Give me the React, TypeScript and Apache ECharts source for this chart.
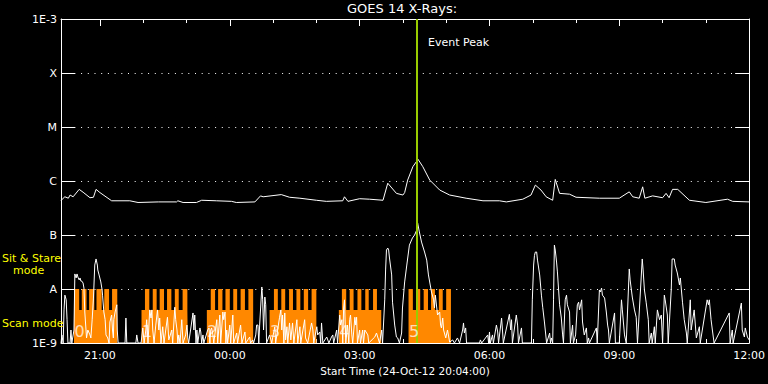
import React, { useEffect, useRef } from 'react';
import * as echarts from 'echarts';

// ---- texts ----
const TITLE = 'GOES 14 X-Rays:';
const X_NAME = 'Start Time (24-Oct-12 20:04:00)';
const EVENT_LABEL = 'Event Peak';

// ---- axes (x in hours relative to 21:00 on 24-Oct-12) ----
const X_MIN = -0.9;
const X_MAX = 15;
const MAJOR_HOURS = [0, 3, 6, 9, 12, 15];
const MINOR_HOURS = [0, 1, 2, 3, 4, 5, 6, 7, 8, 9, 10, 11, 12, 13, 14, 15];
const Y_MIN = 1e-9;
const Y_MAX = 1e-3;
const LEVEL_LABELS: Record<string, string> = {
  '-9': '1E-9', '-8': 'A', '-7': 'B', '-6': 'C', '-5': 'M', '-4': 'X', '-3': '1E-3',
};
const EVENT_PEAK = 7.33;

// ---- GOES long channel (1-8 Å), [hour, W/m^2] ----
const LONG_CHANNEL: [number, number][] = [
  [-0.90, 4.3e-7], [-0.85, 4.8e-7], [-0.81, 5.1e-7], [-0.73, 4.8e-7], [-0.69, 5.5e-7],
  [-0.62, 5.1e-7], [-0.48, 7.0e-7], [-0.39, 6.2e-7], [-0.23, 4.9e-7], [-0.15, 5.0e-7],
  [-0.09, 7.0e-7], [0.00, 6.1e-7], [0.27, 4.3e-7], [0.69, 4.3e-7], [0.88, 4.0e-7],
  [1.35, 4.1e-7], [1.77, 4.1e-7], [1.80, 4.3e-7], [1.92, 4.0e-7], [2.23, 4.0e-7],
  [2.35, 4.4e-7], [2.69, 4.3e-7], [3.04, 4.2e-7], [3.15, 4.0e-7], [3.58, 4.1e-7],
  [3.71, 5.3e-7], [3.77, 5.1e-7], [4.19, 5.6e-7], [4.38, 5.0e-7], [4.62, 4.8e-7],
  [5.00, 4.4e-7], [5.23, 4.2e-7], [5.61, 4.3e-7], [5.65, 5.1e-7], [5.73, 4.2e-7],
  [6.00, 4.7e-7], [6.23, 4.6e-7], [6.54, 4.4e-7], [6.65, 9.1e-7], [6.85, 5.9e-7],
  [7.00, 5.5e-7], [7.04, 6.1e-7], [7.11, 1.04e-6], [7.23, 1.84e-6], [7.35, 2.52e-6],
  [7.46, 1.84e-6], [7.62, 1.04e-6], [7.85, 6.8e-7], [8.08, 5.5e-7], [8.46, 4.8e-7],
  [8.85, 4.3e-7], [9.23, 4.3e-7], [9.39, 4.1e-7], [9.77, 4.6e-7], [9.96, 5.5e-7],
  [10.06, 8.4e-7], [10.19, 6.8e-7], [10.31, 5.1e-7], [10.46, 4.4e-7], [10.52, 1.07e-6],
  [10.62, 5.9e-7], [10.85, 5.7e-7], [11.00, 5.0e-7], [11.54, 4.8e-7], [12.00, 4.8e-7],
  [12.23, 6.3e-7], [12.31, 5.1e-7], [12.46, 4.8e-7], [12.54, 7.8e-7], [12.59, 4.8e-7],
  [12.77, 5.3e-7], [13.00, 4.9e-7], [13.08, 5.9e-7], [13.15, 4.9e-7], [13.23, 7.0e-7],
  [13.35, 7.0e-7], [13.62, 4.4e-7], [14.00, 4.0e-7], [14.50, 4.6e-7], [14.62, 4.2e-7],
  [15.00, 4.1e-7],
];

// ---- GOES short channel (0.5-4 Å), [hour, W/m^2], floored at 1E-9 ----
const SHORT_CHANNEL: [number, number][] = [
  [-0.90, 1e-9], [-0.88, 1.41e-9], [-0.85, 1e-9], [-0.83, 4.1e-9], [-0.81, 7.7e-9],
  [-0.78, 6.3e-9], [-0.76, 2.7e-9], [-0.74, 1e-9], [-0.69, 1e-9], [-0.67, 1.74e-9],
  [-0.65, 1e-9], [-0.60, 1.74e-9], [-0.58, 1.9e-8], [-0.55, 1.6e-8], [-0.53, 1.9e-8],
  [-0.51, 1.67e-8], [-0.48, 1.47e-8], [-0.46, 1.6e-8], [-0.44, 1.4e-8], [-0.42, 1.4e-8],
  [-0.39, 1.29e-8], [-0.37, 1.04e-8], [-0.35, 3.75e-9], [-0.31, 1.24e-9], [-0.28, 1.74e-9],
  [-0.23, 1.41e-9], [-0.21, 1.24e-9], [-0.18, 2.7e-9], [-0.15, 6.8e-9], [-0.12, 2.78e-8],
  [-0.09, 3.6e-8], [-0.06, 2.78e-8], [-0.05, 2.25e-8], [-0.02, 1.82e-8], [0.02, 1.35e-8],
  [0.05, 9.6e-9], [0.06, 7.7e-9], [0.09, 3.75e-9], [0.12, 2.7e-9], [0.14, 1.41e-9],
  [0.18, 1.24e-9], [0.21, 1e-9], [0.23, 2.45e-9], [0.27, 3.3e-9], [0.29, 1.74e-9],
  [0.31, 1.24e-9], [0.32, 2.7e-9], [0.35, 3.75e-9], [0.39, 5.1e-9], [0.40, 1.74e-9],
  [0.42, 1e-9], [0.58, 1e-9], [0.60, 2.9e-9], [0.62, 1e-9], [0.83, 1e-9],
  [0.85, 1.41e-9], [0.88, 1e-9], [0.95, 1e-9], [0.99, 1.9e-9], [1.02, 1e-9],
  [1.06, 1.74e-9], [1.08, 2.7e-9], [1.11, 1e-9], [1.15, 4.1e-9], [1.18, 2.9e-9],
  [1.20, 4.1e-9], [1.22, 1.74e-9], [1.25, 1e-9], [1.29, 2.15e-9], [1.33, 4.1e-9],
  [1.36, 1.74e-9], [1.38, 2.9e-9], [1.41, 1e-9], [1.45, 2.0e-9], [1.48, 1e-9],
  [1.52, 1.74e-9], [1.56, 3.0e-9], [1.59, 1.14e-9], [1.66, 1.74e-9], [1.68, 1e-9],
  [1.73, 4.6e-9], [1.75, 2.7e-9], [1.78, 1.74e-9], [1.80, 1e-9], [1.82, 1.41e-9],
  [1.85, 1e-9], [1.89, 2.7e-9], [1.92, 1e-9], [1.98, 1.41e-9], [2.01, 2.15e-9],
  [2.03, 1.24e-9], [2.05, 1e-9], [2.15, 3.6e-9], [2.17, 1.74e-9], [2.19, 3.3e-9],
  [2.22, 1e-9], [2.24, 1.74e-9], [2.26, 1e-9], [2.31, 1.9e-9], [2.33, 1.6e-9],
  [2.35, 1e-9], [2.38, 1.41e-9], [2.40, 1e-9], [2.49, 1.74e-9], [2.52, 1.9e-9],
  [2.54, 1e-9], [2.56, 1.74e-9], [2.58, 1.9e-9], [2.61, 1.41e-9], [2.63, 1e-9],
  [2.70, 2.7e-9], [2.72, 1e-9], [2.77, 3.3e-9], [2.79, 1e-9], [2.84, 3.75e-9],
  [2.86, 2.7e-9], [2.89, 3.75e-9], [2.91, 1e-9], [2.93, 1.74e-9], [2.95, 1e-9],
  [3.00, 2.15e-9], [3.02, 1e-9], [3.07, 3.3e-9], [3.09, 1e-9], [3.16, 1.53e-9],
  [3.18, 1e-9], [3.23, 1.74e-9], [3.25, 2.15e-9], [3.28, 1e-9], [3.35, 1.6e-9],
  [3.37, 1e-9], [3.46, 1.29e-9], [3.48, 1e-9], [3.53, 1.14e-9], [3.55, 1e-9],
  [3.60, 1.41e-9], [3.62, 2.15e-9], [3.65, 2.15e-9], [3.67, 1e-9], [3.69, 2.15e-9],
  [3.74, 1.09e-8], [3.76, 6.3e-9], [3.78, 1.74e-9], [3.81, 7.1e-9], [3.83, 5.1e-9],
  [3.85, 1e-9], [3.92, 1.41e-9], [3.97, 1e-9], [3.99, 1.24e-9], [4.04, 2.0e-9],
  [4.06, 1e-9], [4.15, 3.0e-9], [4.18, 4.1e-9], [4.20, 1.74e-9], [4.22, 3.3e-9],
  [4.25, 1e-9], [4.27, 3.6e-9], [4.29, 1.14e-9], [4.32, 2.0e-9], [4.34, 1e-9],
  [4.38, 2.35e-9], [4.41, 1.14e-9], [4.45, 2.35e-9], [4.48, 1e-9], [4.55, 2.7e-9],
  [4.57, 1e-9], [4.62, 2.0e-9], [4.64, 1e-9], [4.73, 2.7e-9], [4.75, 1.24e-9],
  [4.80, 1e-9], [4.89, 2.35e-9], [4.92, 1.74e-9], [4.94, 1e-9], [5.01, 2.0e-9],
  [5.03, 1.41e-9], [5.08, 1.6e-9], [5.10, 1e-9], [5.12, 2.35e-9], [5.15, 1e-9],
  [5.24, 1.29e-9], [5.29, 1e-9], [5.35, 1.29e-9], [5.38, 1.41e-9], [5.40, 1e-9],
  [5.47, 1.74e-9], [5.49, 1e-9], [5.54, 3.3e-9], [5.56, 2.15e-9], [5.59, 2.7e-9],
  [5.61, 1e-9], [5.63, 4.45e-9], [5.65, 6.3e-9], [5.68, 1e-9], [5.72, 2.15e-9],
  [5.75, 1e-9], [5.77, 2.7e-9], [5.79, 3.3e-9], [5.82, 1.41e-9], [5.84, 1e-9],
  [5.89, 3.0e-9], [5.91, 2.15e-9], [5.93, 3.0e-9], [5.95, 1e-9], [6.00, 1.74e-9],
  [6.02, 1e-9], [6.07, 1.74e-9], [6.09, 1e-9], [6.12, 1.74e-9], [6.19, 1.41e-9],
  [6.21, 1e-9], [6.35, 1.29e-9], [6.39, 1.53e-9], [6.46, 1e-9], [6.51, 1.74e-9],
  [6.53, 1e-9], [6.58, 6.3e-9], [6.60, 2.25e-8], [6.62, 5.27e-8], [6.65, 5.74e-8],
  [6.67, 5.27e-8], [6.69, 3.75e-8], [6.74, 1.82e-8], [6.76, 5.7e-9], [6.81, 2.15e-9],
  [6.85, 1.29e-9], [6.88, 1.24e-9], [6.92, 1e-9], [6.97, 1.53e-9], [6.99, 4.45e-9],
  [7.04, 1.35e-8], [7.09, 2.78e-8], [7.15, 6.5e-8], [7.22, 8.8e-8], [7.27, 1.0e-7],
  [7.32, 1.24e-7], [7.34, 1.67e-7], [7.38, 1.14e-7], [7.43, 7.4e-8], [7.50, 4.84e-8],
  [7.55, 3.43e-8], [7.59, 1.82e-8], [7.66, 8.8e-9], [7.71, 6.3e-9], [7.73, 4.45e-9],
  [7.75, 7.7e-9], [7.80, 3.3e-9], [7.85, 3.75e-9], [7.87, 2.15e-9], [7.89, 1.9e-9],
  [7.92, 2.9e-9], [7.94, 1.74e-9], [7.99, 1.24e-9], [8.03, 1.74e-9], [8.08, 1.04e-9],
  [8.15, 1.14e-9], [8.19, 1e-9], [8.26, 1.24e-9], [8.31, 1e-9], [8.38, 1.74e-9],
  [8.40, 2.35e-9], [8.42, 1.53e-9], [8.45, 1.9e-9], [8.47, 1e-9], [8.77, 1e-9],
  [8.79, 1.14e-9], [8.82, 1e-9], [8.96, 1.41e-9], [8.98, 1e-9], [9.00, 1.6e-9],
  [9.02, 1e-9], [9.07, 1.41e-9], [9.09, 1e-9], [9.16, 2.15e-9], [9.19, 1.6e-9],
  [9.21, 1e-9], [9.28, 2.9e-9], [9.30, 1.74e-9], [9.32, 1e-9], [9.46, 3.4e-9],
  [9.49, 1.74e-9], [9.51, 2.7e-9], [9.53, 1e-9], [9.62, 3.3e-9], [9.65, 2.15e-9],
  [9.67, 1e-9], [9.74, 1.9e-9], [9.76, 1e-9], [9.97, 1e-9], [9.99, 6.3e-9],
  [10.02, 2.78e-8], [10.04, 4.2e-8], [10.06, 4.84e-8], [10.09, 4.84e-8], [10.11, 3.43e-8],
  [10.16, 1.82e-8], [10.20, 7.7e-9], [10.23, 4.6e-9], [10.27, 2.45e-9], [10.32, 1e-9],
  [10.39, 1.53e-9], [10.41, 1e-9], [10.43, 1.24e-9], [10.46, 1e-9], [10.48, 6.3e-9],
  [10.50, 6.5e-8], [10.52, 5.27e-8], [10.55, 3.16e-8], [10.57, 2.07e-8], [10.62, 5.1e-9],
  [10.66, 2.9e-9], [10.69, 1.41e-9], [10.71, 1e-9], [10.75, 6.3e-9], [10.78, 7.7e-9],
  [10.80, 5.1e-9], [10.85, 3.75e-9], [10.87, 1e-9], [10.92, 2.15e-9], [10.94, 1e-9],
  [10.99, 1.41e-9], [11.03, 5.1e-9], [11.06, 5.7e-9], [11.08, 4.1e-9], [11.13, 6.3e-9],
  [11.15, 2.45e-9], [11.19, 1.41e-9], [11.24, 1.9e-9], [11.26, 1e-9], [11.29, 1.24e-9],
  [11.31, 1e-9], [11.47, 1.9e-9], [11.49, 1e-9], [11.54, 9.6e-9], [11.56, 8.8e-9],
  [11.59, 1.04e-8], [11.61, 7.7e-9], [11.66, 6.8e-9], [11.70, 3.75e-9], [11.73, 2.15e-9],
  [11.75, 1.74e-9], [11.77, 1e-9], [11.89, 3.6e-9], [11.91, 1e-9], [12.00, 1e-9],
  [12.05, 6.3e-9], [12.07, 4.1e-9], [12.12, 1.41e-9], [12.16, 1e-9], [12.23, 2.35e-8],
  [12.25, 1.47e-8], [12.30, 7.1e-9], [12.35, 4.1e-9], [12.39, 3.0e-9], [12.42, 1e-9],
  [12.53, 3.6e-8], [12.55, 2.25e-8], [12.58, 9.6e-9], [12.62, 5.7e-9], [12.67, 2.7e-9],
  [12.69, 1e-9], [12.74, 1.53e-9], [12.76, 1e-9], [12.81, 2.0e-9], [12.83, 1e-9],
  [12.88, 4.1e-9], [12.93, 2.7e-9], [12.97, 3.3e-9], [13.00, 1e-9], [13.04, 7.7e-9],
  [13.06, 6.3e-9], [13.11, 3.3e-9], [13.13, 1e-9], [13.20, 9.6e-9], [13.22, 3.6e-8],
  [13.27, 3.6e-8], [13.29, 2.78e-8], [13.34, 1.98e-8], [13.39, 1.19e-8], [13.41, 1.6e-8],
  [13.46, 5.7e-9], [13.50, 2.7e-9], [13.55, 1.53e-9], [13.57, 1e-9], [13.64, 6.3e-9],
  [13.66, 1.74e-9], [13.73, 4.1e-9], [13.78, 1.24e-9], [13.85, 2.0e-9], [13.87, 1e-9],
  [14.03, 6.3e-9], [14.06, 5.1e-9], [14.08, 6.3e-9], [14.12, 2.7e-9], [14.15, 1.74e-9],
  [14.19, 1e-9], [14.54, 3.6e-9], [14.56, 1e-9], [14.61, 1.74e-9], [14.63, 1e-9],
  [14.82, 5.5e-9], [14.84, 1.74e-9], [14.89, 1.29e-9], [14.91, 1.9e-9], [14.96, 1.29e-9],
  [15.00, 1.14e-9],
];

// ---- observing mode timeline: T = sit & stare, S = scan, O = none ----
const MODE_T = [
  -0.90,
  -0.60, -0.48, -0.42, -0.31, -0.25, -0.13, -0.08, 0.04, 0.10, 0.21, 0.28, 0.40,
  0.96, 1.04, 1.14, 1.22, 1.31, 1.38, 1.48, 1.55, 1.65, 1.73, 1.82, 1.91, 2.02, 2.03,
  2.47, 2.56, 2.66, 2.73, 2.83, 2.90, 3.00, 3.08, 3.17, 3.25, 3.35, 3.43, 3.54,
  3.92, 4.02, 4.11, 4.19, 4.28, 4.37, 4.46, 4.54, 4.63, 4.71, 4.81, 4.89, 5.00,
  5.52, 5.59, 5.69, 5.77, 5.86, 5.95, 6.04, 6.13, 6.21, 6.31, 6.40, 6.50,
  7.13, 7.23, 7.31, 7.40, 7.48, 7.58, 7.65, 7.74, 7.83, 7.92, 8.00, 8.11,
  15.00,
];
const MODE_STATE = [
  'O',
  'T', 'S', 'T', 'S', 'T', 'S', 'T', 'S', 'T', 'S', 'T', 'O',
  'S', 'T', 'S', 'T', 'S', 'T', 'S', 'T', 'S', 'T', 'S', 'T', 'S', 'O',
  'S', 'T', 'S', 'T', 'S', 'T', 'S', 'T', 'S', 'T', 'S', 'T', 'O',
  'S', 'T', 'S', 'T', 'S', 'T', 'S', 'T', 'S', 'T', 'S', 'T', 'O',
  'S', 'T', 'S', 'T', 'S', 'T', 'S', 'T', 'S', 'T', 'S', 'O',
  'T', 'S', 'T', 'S', 'T', 'S', 'T', 'S', 'T', 'S', 'T', 'O',
  'O',
];
const MODE_LEVEL: Record<string, number> = { T: 1e-8, S: 4.1e-9, O: 1e-9 };
const SEGMENT_START = [-0.60, 0.96, 2.47, 3.92, 5.52, 7.13];
const SEGMENT_ID = [0, 1, 2, 3, 4, 5];

const FONT = 'DejaVu Sans';

export default function App() {
  const ref = useRef<HTMLDivElement>(null);

  useEffect(() => {
    document.body.style.margin = '0';
    document.body.style.background = '#000';
    const chart = echarts.init(ref.current as HTMLDivElement, null, { renderer: 'svg' });

    const hourLabel = (v: number) => {
      const h = (((Math.round(v) + 21) % 24) + 24) % 24;
      return String(h).padStart(2, '0') + ':00';
    };
    const levelLabel = (v: number) => LEVEL_LABELS[String(Math.round(Math.log10(v)))] ?? '';
    const modeData = MODE_T.map((t, i) => [t, MODE_LEVEL[MODE_STATE[i]]]);
    const segLabels = SEGMENT_START.map((t, i) => [t, 1.5e-9, SEGMENT_ID[i]]);

    const white = '#ffffff';
    const baseX = {
      type: 'value',
      min: X_MIN,
      max: X_MAX,
      splitLine: { show: false },
    };

    chart.setOption({
      animation: false,
      backgroundColor: '#000000',
      textStyle: { fontFamily: FONT },
      title: {
        text: TITLE,
        left: 347,
        top: 2,
        padding: 0,
        textStyle: { color: white, fontSize: 13, fontWeight: 'normal', fontFamily: FONT },
      },
      grid: { left: 61, right: 18, top: 19, bottom: 41, containLabel: false },
      xAxis: [
        {
          ...baseX,
          position: 'bottom',
          axisLine: { show: true, onZero: false, lineStyle: { color: white, width: 1 } },
          axisTick: { show: true, inside: true, length: 7, customValues: MAJOR_HOURS, lineStyle: { color: white, width: 1 } },
          axisLabel: {
            show: true, customValues: MAJOR_HOURS, formatter: hourLabel,
            color: white, fontSize: 11, fontFamily: FONT, margin: 7,
          },
          name: X_NAME,
          nameLocation: 'middle',
          nameGap: 16,
          nameTextStyle: { color: white, fontSize: 10.5, fontFamily: FONT },
        },
        {
          ...baseX,
          position: 'bottom',
          axisLine: { show: false, onZero: false },
          axisTick: { show: true, inside: true, length: 4, customValues: MINOR_HOURS, lineStyle: { color: white, width: 1 } },
          axisLabel: { show: false },
        },
        {
          ...baseX,
          position: 'top',
          axisLine: { show: true, onZero: false, lineStyle: { color: white, width: 1 } },
          axisTick: { show: true, inside: true, length: 7, customValues: MAJOR_HOURS, lineStyle: { color: white, width: 1 } },
          axisLabel: { show: false },
        },
        {
          ...baseX,
          position: 'top',
          axisLine: { show: false, onZero: false },
          axisTick: { show: true, inside: true, length: 4, customValues: MINOR_HOURS, lineStyle: { color: white, width: 1 } },
          axisLabel: { show: false },
        },
      ],
      yAxis: [
        {
          type: 'log',
          logBase: 10,
          min: Y_MIN,
          max: Y_MAX,
          interval: 1,
          position: 'left',
          axisLine: { show: true, onZero: false, lineStyle: { color: white, width: 1 } },
          axisTick: { show: true, inside: true, length: 14, lineStyle: { color: white, width: 1 } },
          axisLabel: { show: true, formatter: levelLabel, color: white, fontSize: 11, fontFamily: FONT, margin: 4 },
          splitLine: { show: true, lineStyle: { color: white, width: 1, type: [1, 5.7] } },
          minorTick: { show: false },
        },
        {
          type: 'log',
          logBase: 10,
          min: Y_MIN,
          max: Y_MAX,
          interval: 1,
          position: 'right',
          axisLine: { show: true, onZero: false, lineStyle: { color: white, width: 1 } },
          axisTick: { show: true, inside: true, length: 14, lineStyle: { color: white, width: 1 } },
          axisLabel: { show: false },
          splitLine: { show: false },
        },
      ],
      graphic: [
        { type: 'text', left: 428, top: 37, z: 10, style: { text: EVENT_LABEL, fill: white, font: `11px "${FONT}"` } },
        { type: 'text', left: 2, top: 253, z: 10, style: { text: 'Sit & Stare', fill: '#ffff00', font: `11px "${FONT}"` } },
        { type: 'text', left: 13, top: 265, z: 10, style: { text: 'mode', fill: '#ffff00', font: `11px "${FONT}"` } },
        { type: 'text', left: 2, top: 318, z: 10, style: { text: 'Scan mode', fill: '#ffff00', font: `11px "${FONT}"` } },
      ],
      series: [
        {
          name: 'Mode',
          type: 'line',
          xAxisIndex: 0,
          yAxisIndex: 0,
          step: 'end',
          symbol: 'none',
          data: modeData,
          lineStyle: { width: 0, color: '#ff8800' },
          areaStyle: { color: '#ff8800', opacity: 1, origin: 'start' },
          z: 1,
          silent: true,
        },
        {
          name: 'Short',
          type: 'line',
          xAxisIndex: 0,
          yAxisIndex: 0,
          symbol: 'none',
          data: SHORT_CHANNEL,
          lineStyle: { width: 1, color: white },
          z: 3,
          silent: true,
        },
        {
          name: 'Long',
          type: 'line',
          xAxisIndex: 0,
          yAxisIndex: 0,
          symbol: 'none',
          data: LONG_CHANNEL,
          lineStyle: { width: 1, color: white },
          z: 3,
          silent: true,
          markLine: {
            silent: true,
            symbol: 'none',
            label: { show: false },
            lineStyle: { color: '#99cc00', width: 2, type: 'solid' },
            data: [{ xAxis: EVENT_PEAK }],
          },
        },
        {
          name: 'Segments',
          type: 'scatter',
          xAxisIndex: 0,
          yAxisIndex: 0,
          symbolSize: 1,
          itemStyle: { color: 'rgba(0,0,0,0)' },
          data: segLabels,
          label: {
            show: true,
            position: [1, -9],
            align: 'left',
            verticalAlign: 'top',
            formatter: (p: any) => String(p.value[2]),
            color: 'rgba(255,255,255,0.9)',
            fontSize: 16,
            fontFamily: FONT,
          },
          labelLayout: { hideOverlap: false },
          z: 6,
          silent: true,
        },
      ],
    });

    return () => chart.dispose();
  }, []);

  return <div ref={ref} style={{ width: 768, height: 384 }} />;
}
